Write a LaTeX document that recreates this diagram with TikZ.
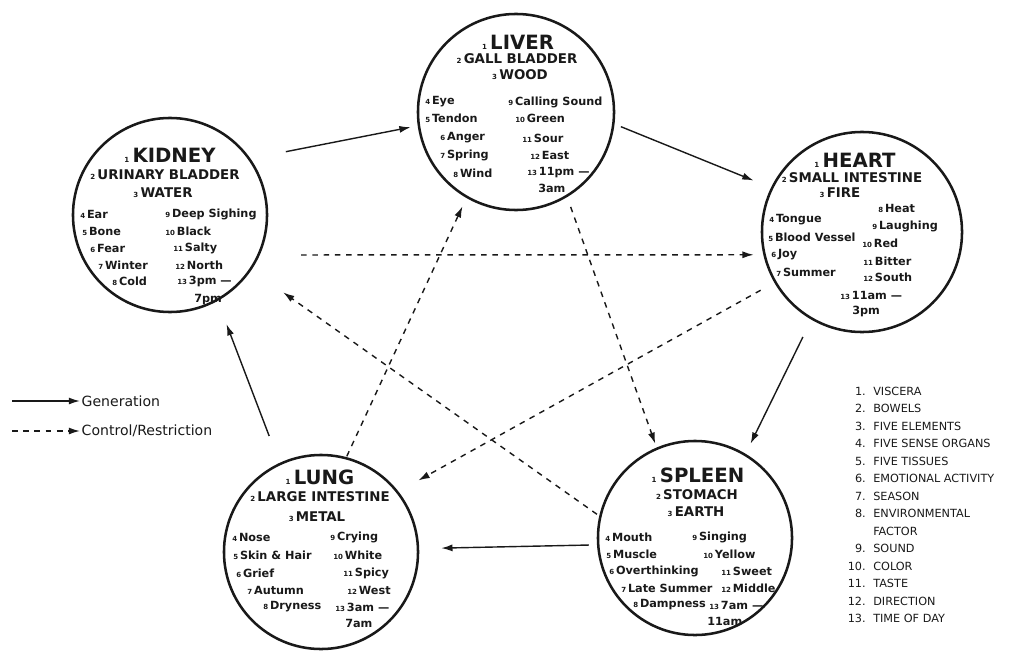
\documentclass[tikz,border=0pt]{standalone}
\usepackage{fontspec}
\setmainfont{DejaVu Sans}
\usepackage{tikz}
\tikzset{>=latex}
\usetikzlibrary{arrows.meta}
\usetikzlibrary{calc}
\definecolor{ink}{RGB}{25,25,25}
\newcommand\numtag[1]{{\fontsize{5}{5}\selectfont#1}\,}
\tikzset{
  organ/.style={circle, draw=ink, line width=1.8pt, minimum size=#1, inner sep=0pt},
  title/.style={font=\bfseries\fontsize{14}{14}\selectfont, text=ink, inner sep=0pt},
  sub/.style={font=\bfseries\fontsize{9.5}{10}\selectfont, text=ink, inner sep=0pt},
  item/.style={anchor=west, font=\bfseries\fontsize{8}{9}\selectfont, text=ink, inner sep=0pt},
  gen/.style={draw=ink, line width=1pt, -{Latex[length=8pt,width=5pt]}},
  ctrl/.style={gen, dash pattern=on 4pt off 4pt},
  key/.style={font=\fontsize{8}{9}\selectfont, text=ink, inner sep=0pt},
  legend/.style={anchor=west, font=\fontsize{10}{11}\selectfont, text=ink, inner sep=1pt}
}

\begin{document}
\begin{tikzpicture}[x=0.025cm, y=-0.025cm]
    \useasboundingbox (0,0) rectangle (1010,656);
    % the five organs
    \node[organ=4.9cm] (liver) at (516,112) {};
    \node[organ=4.85cm] (kidney) at (170,215) {};
    \node[organ=5.0cm] (heart) at (862,232) {};
    \node[organ=4.85cm] (lung) at (321,552) {};
    \node[organ=4.85cm] (spleen) at (695,538) {};

    % liver
    \node[title] (liver-title) at ($(liver)+(2,-70)$) {\numtag{1}LIVER};
    \node[sub] (liver-bowel) at ($(liver)+(1,-53)$) {\numtag{2}GALL BLADDER};
    \node[sub] (liver-elem) at ($(liver)+(4,-37)$) {\numtag{3}WOOD};
    \foreach \dx/\dy/\txt [count=\k] in {-91/-10/{\numtag{4}Eye}, -91/6/{\numtag{5}Tendon},
        -76/26/{\numtag{6}Anger}, -76/43/{\numtag{7}Spring}, -63/61/{\numtag{8}Wind},
        -8/-10/{\numtag{9}Calling Sound}, -1/6/{\numtag{10}Green}, 6/26/{\numtag{11}Sour},
        14/43/{\numtag{12}East}, 11/61/{\numtag{13}11pm —}, 22/76/{3am}} {
        \node[item] (liver-\k) at ($(liver)+(\dx,\dy)$) {\txt};
    }

    % kidney
    \node[title] (kidney-title) at ($(kidney)+(0,-60)$) {\numtag{1}KIDNEY};
    \node[sub] (kidney-bowel) at ($(kidney)+(-5,-40)$) {\numtag{2}URINARY BLADDER};
    \node[sub] (kidney-elem) at ($(kidney)+(-7,-22)$) {\numtag{3}WATER};
    \foreach \dx/\dy/\txt [count=\k] in {-90/-1/{\numtag{4}Ear}, -88/16/{\numtag{5}Bone},
        -80/33/{\numtag{6}Fear}, -72/50/{\numtag{7}Winter}, -58/66/{\numtag{8}Cold},
        -5/-1/{\numtag{9}Deep Sighing}, -5/16/{\numtag{10}Black}, 3/33/{\numtag{11}Salty},
        5/50/{\numtag{12}North}, 7/66/{\numtag{13}3pm —}, 24/85/{7pm}} {
        \node[item] (kidney-\k) at ($(kidney)+(\dx,\dy)$) {\txt};
    }

    % heart
    \node[title] (heart-title) at ($(heart)+(-7,-72)$) {\numtag{1}HEART};
    \node[sub] (heart-bowel) at ($(heart)+(-10,-54)$) {\numtag{2}SMALL INTESTINE};
    \node[sub] (heart-elem) at ($(heart)+(-22,-39)$) {\numtag{3}FIRE};
    \foreach \dx/\dy/\txt [count=\k] in {-93/-12/{\numtag{4}Tongue}, -94/5/{\numtag{5}Blood Vessel},
        -91/23/{\numtag{6}Joy}, -86/40/{\numtag{7}Summer}, 16/-24/{\numtag{8}Heat},
        10/-6/{\numtag{9}Laughing}, 0/11/{\numtag{10}Red}, 1/29/{\numtag{11}Bitter},
        1/45/{\numtag{12}South}, -22/63/{\numtag{13}11am —}, -10/79/{3pm}} {
        \node[item] (heart-\k) at ($(heart)+(\dx,\dy)$) {\txt};
    }

    % lung
    \node[title] (lung-title) at ($(lung)+(-1,-75)$) {\numtag{1}LUNG};
    \node[sub] (lung-bowel) at ($(lung)+(-1,-55)$) {\numtag{2}LARGE INTESTINE};
    \node[sub] (lung-elem) at ($(lung)+(-4,-35)$) {\numtag{3}METAL};
    \foreach \dx/\dy/\txt [count=\k] in {-89/-15/{\numtag{4}Nose}, -88/3/{\numtag{5}Skin \& Hair},
        -85/21/{\numtag{6}Grief}, -74/38/{\numtag{7}Autumn}, -58/55/{\numtag{8}Dryness},
        9/-15/{\numtag{9}Crying}, 12/3/{\numtag{10}White}, 22/21/{\numtag{11}Spicy},
        26/38/{\numtag{12}West}, 14/55/{\numtag{13}3am —}, 24/71/{7am}} {
        \node[item] (lung-\k) at ($(lung)+(\dx,\dy)$) {\txt};
    }

    % spleen
    \node[title] (spleen-title) at ($(spleen)+(3,-63)$) {\numtag{1}SPLEEN};
    \node[sub] (spleen-bowel) at ($(spleen)+(2,-43)$) {\numtag{2}STOMACH};
    \node[sub] (spleen-elem) at ($(spleen)+(1,-26)$) {\numtag{3}EARTH};
    \foreach \dx/\dy/\txt [count=\k] in {-90/-1/{\numtag{4}Mouth}, -89/16/{\numtag{5}Muscle},
        -86/33/{\numtag{6}Overthinking}, -74/50/{\numtag{7}Late Summer}, -62/67/{\numtag{8}Dampness},
        -3/-1/{\numtag{9}Singing}, 8/16/{\numtag{10}Yellow}, 26/33/{\numtag{11}Sweet},
        26/50/{\numtag{12}Middle}, 14/67/{\numtag{13}7am —}, 12/83/{11am}} {
        \node[item] (spleen-\k) at ($(spleen)+(\dx,\dy)$) {\txt};
    }

    % generation cycle
    \draw[gen, shorten <=0.9cm, shorten >=0.18cm] (kidney.35) -- (liver.188);
    \draw[gen, shorten <=0.17cm, shorten >=0.47cm] (liver.-7) -- (heart.154);
    \draw[gen, shorten <=0.48cm, shorten >=0.28cm] (heart.240) -- (spleen.59);
    \draw[gen, shorten <=0.2cm, shorten >=0.55cm] (spleen.184) -- (lung.2);
    \draw[gen, shorten <=0.72cm, shorten >=0.62cm] (lung.115) -- (kidney.-61);

    % control cycle
    \draw[ctrl, shorten <=0.26cm, shorten >=0.1cm] (liver.-59) -- (spleen.113);
    \draw[ctrl, shorten <=0.07cm, shorten >=0.97cm] (spleen.167) -- (kidney.-34.5);
    \draw[ctrl, shorten <=1.03cm, shorten >=0.24cm] (kidney.-24) -- (heart.193);
    \draw[ctrl, shorten <=0.39cm, shorten >=0.57cm] (heart.210) -- (lung.38);
    \draw[ctrl, shorten <=0.02cm, shorten >=0.23cm] (lung.75) -- (liver.240);

    % legend
    \coordinate (gen-start) at (12,401);
    \node[legend] (gen-label) at (80,401) {Generation};
    \draw[gen] (gen-start) -- (gen-label);
    \coordinate (ctrl-start) at (12,431);
    \node[legend] (ctrl-label) at (80,431) {Control/Restriction};
    \draw[ctrl] (ctrl-start) -- (ctrl-label);

    % key to the numbers
    \foreach \n/\txt [count=\k] in {1./VISCERA, 2./BOWELS, 3./FIVE ELEMENTS, 4./FIVE SENSE ORGANS,
        5./FIVE TISSUES, 6./EMOTIONAL ACTIVITY, 7./SEASON, 8./ENVIRONMENTAL, /FACTOR,
        9./SOUND, 10./COLOR, 11./TASTE, 12./DIRECTION, 13./TIME OF DAY} {
        \node[key, anchor=east] (key-num-\k) at (866,{391+(\k-1)*17.5}) {\n};
        \node[key, anchor=west] (key-\k) at (873,{391+(\k-1)*17.5}) {\txt};
    }
\end{tikzpicture}
\end{document}
